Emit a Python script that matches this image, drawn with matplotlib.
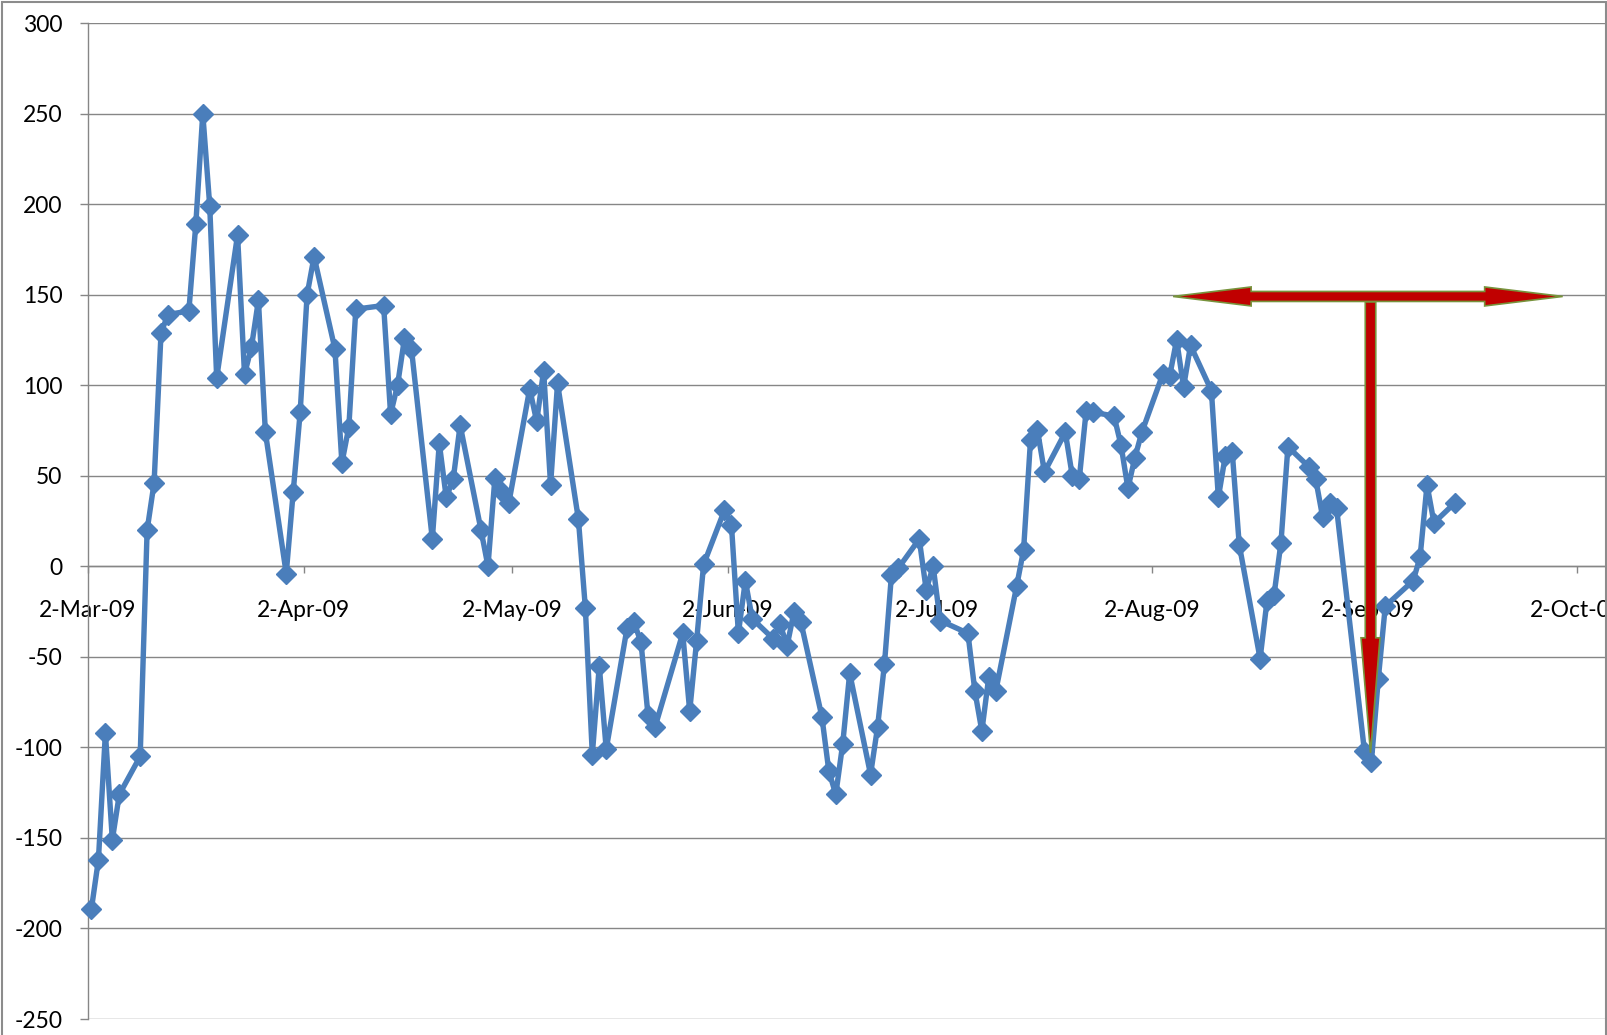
import datetime as dt
import numpy as np
import matplotlib
matplotlib.use("Agg")
import matplotlib.pyplot as plt
import matplotlib.dates as mdates
from matplotlib.patches import Polygon, Rectangle
from matplotlib.transforms import IdentityTransform
from matplotlib.ticker import FuncFormatter

# daily values, trading days Mar-Sep 2009
dates = [
    "2009-03-02", "2009-03-03", "2009-03-04", "2009-03-05", "2009-03-06",
    "2009-03-09", "2009-03-10", "2009-03-11", "2009-03-12", "2009-03-13",
    "2009-03-16", "2009-03-17", "2009-03-18", "2009-03-19", "2009-03-20",
    "2009-03-23", "2009-03-24", "2009-03-25", "2009-03-26", "2009-03-27",
    "2009-03-30", "2009-03-31", "2009-04-01", "2009-04-02", "2009-04-03",
    "2009-04-06", "2009-04-07", "2009-04-08", "2009-04-09",
    "2009-04-13", "2009-04-14", "2009-04-15", "2009-04-16", "2009-04-17",
    "2009-04-20", "2009-04-21", "2009-04-22", "2009-04-23", "2009-04-24",
    "2009-04-27", "2009-04-28", "2009-04-29", "2009-04-30", "2009-05-01",
    "2009-05-04", "2009-05-05", "2009-05-06", "2009-05-07", "2009-05-08",
    "2009-05-11", "2009-05-12", "2009-05-13", "2009-05-14", "2009-05-15",
    "2009-05-18", "2009-05-19", "2009-05-20", "2009-05-21", "2009-05-22",
    "2009-05-26", "2009-05-27", "2009-05-28", "2009-05-29",
    "2009-06-01", "2009-06-02", "2009-06-03", "2009-06-04", "2009-06-05",
    "2009-06-08", "2009-06-09", "2009-06-10", "2009-06-11", "2009-06-12",
    "2009-06-15", "2009-06-16", "2009-06-17", "2009-06-18", "2009-06-19",
    "2009-06-22", "2009-06-23", "2009-06-24", "2009-06-25", "2009-06-26",
    "2009-06-29", "2009-06-30", "2009-07-01", "2009-07-02",
    "2009-07-06", "2009-07-07", "2009-07-08", "2009-07-09", "2009-07-10",
    "2009-07-13", "2009-07-14", "2009-07-15", "2009-07-16", "2009-07-17",
    "2009-07-20", "2009-07-21", "2009-07-22", "2009-07-23", "2009-07-24",
    "2009-07-27", "2009-07-28", "2009-07-29", "2009-07-30", "2009-07-31",
    "2009-08-03", "2009-08-04", "2009-08-05", "2009-08-06", "2009-08-07",
    "2009-08-10", "2009-08-11", "2009-08-12", "2009-08-13", "2009-08-14",
    "2009-08-17", "2009-08-18", "2009-08-19", "2009-08-20", "2009-08-21",
    "2009-08-24", "2009-08-25", "2009-08-26", "2009-08-27", "2009-08-28",
    "2009-09-01", "2009-09-02", "2009-09-03", "2009-09-04",
    "2009-09-08", "2009-09-09", "2009-09-10", "2009-09-11",
    "2009-09-14",
]
values = [
    -189, -162, -92, -151, -126,
    -105, 20, 46, 129, 139,
    141, 189, 250, 199, 104,
    183, 106, 121, 147, 74,
    -4, 41, 85, 150, 171,
    120, 57, 77, 142,
    144, 84, 100, 126, 120,
    15, 68, 38, 48, 78,
    20, 0, 49, 41, 35,
    98, 80, 108, 45, 101,
    26, -23, -104, -55, -101,
    -34, -31, -42, -82, -89,
    -37, -80, -41, 1,
    31, 23, -37, -8, -29,
    -40, -32, -44, -25, -31,
    -83, -113, -126, -98, -59,
    -115, -89, -54, -5, -1,
    15, -13, 0, -30,
    -37, -69, -91, -61, -69,
    -11, 9, 70, 75, 52,
    74, 50, 48, 86, 85,
    83, 67, 43, 60, 74,
    106, 105, 125, 99, 122,
    97, 38, 61, 63, 12,
    -51, -19, -16, 13, 66,
    55, 48, 27, 35, 32,
    -102, -108, -62, -22,
    -8, 5, 45, 24,
    35,
]

y_ticks = list(range(-250, 301, 50))

# annotation arrows (data coordinates)
h_arrow_start = dt.datetime(2009, 8, 5)
h_arrow_end = dt.datetime(2009, 9, 30)
h_arrow_y = 149
v_arrow_x = dt.datetime(2009, 9, 2, 9)
v_arrow_top = 146
v_arrow_tip = -103

LINE_BLUE = "#4A7EBB"
GRID_GRAY = "#868686"
ARROW_RED = "#C00000"
ARROW_EDGE = "#77933C"

plt.rcParams["font.family"] = ["Lato", "DejaVu Sans"]
plt.rcParams["axes.unicode_minus"] = False

W, H = 1607, 1035
fig = plt.figure(figsize=(W / 100, H / 100), dpi=100)
fig.patch.set_facecolor("white")

# plot area in pixels
left_px, right_px, top_px, bottom_px = 88, 1606, 23, 1019
ax = fig.add_axes([left_px / W, (H - bottom_px) / H,
                   (right_px - left_px) / W, (bottom_px - top_px) / H])

x_start = mdates.date2num(dt.datetime(2009, 3, 2))
px_per_day = 6.956
ax.set_xlim(x_start, x_start + (right_px - left_px) / px_per_day)
ax.set_ylim(-250, 300)

# Excel puts each daily point in the middle of its day
xs = mdates.date2num([dt.datetime.strptime(d, "%Y-%m-%d") for d in dates]) + 0.5
ax.plot(xs, values, color=LINE_BLUE, lw=3.9, marker="D", ms=9.8,
        mfc=LINE_BLUE, mec=LINE_BLUE, mew=1, clip_on=False, zorder=4,
        solid_joinstyle="round")

# axes styling
for side in ["top", "right"]:
    ax.spines[side].set_visible(False)
ax.spines["left"].set_color(GRID_GRAY)
ax.spines["left"].set_linewidth(1.0)
ax.spines["bottom"].set_position(("data", 0))
ax.spines["bottom"].set_color(GRID_GRAY)
ax.spines["bottom"].set_linewidth(1.0)

ax.set_yticks(y_ticks)
ax.yaxis.grid(True, color=GRID_GRAY, lw=1.0)
ax.set_axisbelow(True)
ax.tick_params(axis="y", direction="out", length=5.8, width=1.0,
               color=GRID_GRAY, pad=12.5, labelsize=16.5, labelcolor="black")

ax.xaxis.set_major_locator(mdates.MonthLocator(bymonthday=2))
ax.xaxis.set_major_formatter(FuncFormatter(
    lambda v, pos: "{}-{}".format(mdates.num2date(v).day,
                                  mdates.num2date(v).strftime("%b-%y"))))
ax.tick_params(axis="x", direction="out", length=5, width=1.0,
               color=GRID_GRAY, pad=19.5, labelsize=16.5, labelcolor="black")


def arrow_verts(p0, p1, shaft, head_w, head_len, both=False):
    p0 = np.asarray(p0, float)
    p1 = np.asarray(p1, float)
    d = p1 - p0
    u = d / np.hypot(*d)
    n = np.array([-u[1], u[0]])
    hs, hh = shaft / 2, head_w / 2
    if both:
        pts = [p0,
               p0 + u * head_len + n * hh, p0 + u * head_len + n * hs,
               p1 - u * head_len + n * hs, p1 - u * head_len + n * hh,
               p1,
               p1 - u * head_len - n * hh, p1 - u * head_len - n * hs,
               p0 + u * head_len - n * hs, p0 + u * head_len - n * hh]
    else:
        pts = [p0 + n * hs,
               p1 - u * head_len + n * hs, p1 - u * head_len + n * hh,
               p1,
               p1 - u * head_len - n * hh, p1 - u * head_len - n * hs,
               p0 - n * hs]
    return np.array(pts)


to_px = ax.transData.transform
v0 = to_px((mdates.date2num(v_arrow_x), v_arrow_top))
v1 = to_px((mdates.date2num(v_arrow_x), v_arrow_tip))
h0 = to_px((mdates.date2num(h_arrow_start), h_arrow_y))
h1 = to_px((mdates.date2num(h_arrow_end), h_arrow_y))

ax.add_patch(Polygon(arrow_verts(v0, v1, 10.5, 19, 115), closed=True,
                     transform=IdentityTransform(), facecolor=ARROW_RED,
                     edgecolor=ARROW_EDGE, lw=1.2, zorder=6, clip_on=False))
ax.add_patch(Polygon(arrow_verts(h0, h1, 10, 19, 78, both=True), closed=True,
                     transform=IdentityTransform(), facecolor=ARROW_RED,
                     edgecolor=ARROW_EDGE, lw=1.2, zorder=7, clip_on=False))

# chart area border
fig.add_artist(Rectangle((2 / W, -0.1), (1605.5 - 2) / W, 1.1 - 2 / H,
                         transform=fig.transFigure, fill=False,
                         edgecolor="#8c8c8c", lw=1.5))

fig.savefig("out.png", dpi=100)
